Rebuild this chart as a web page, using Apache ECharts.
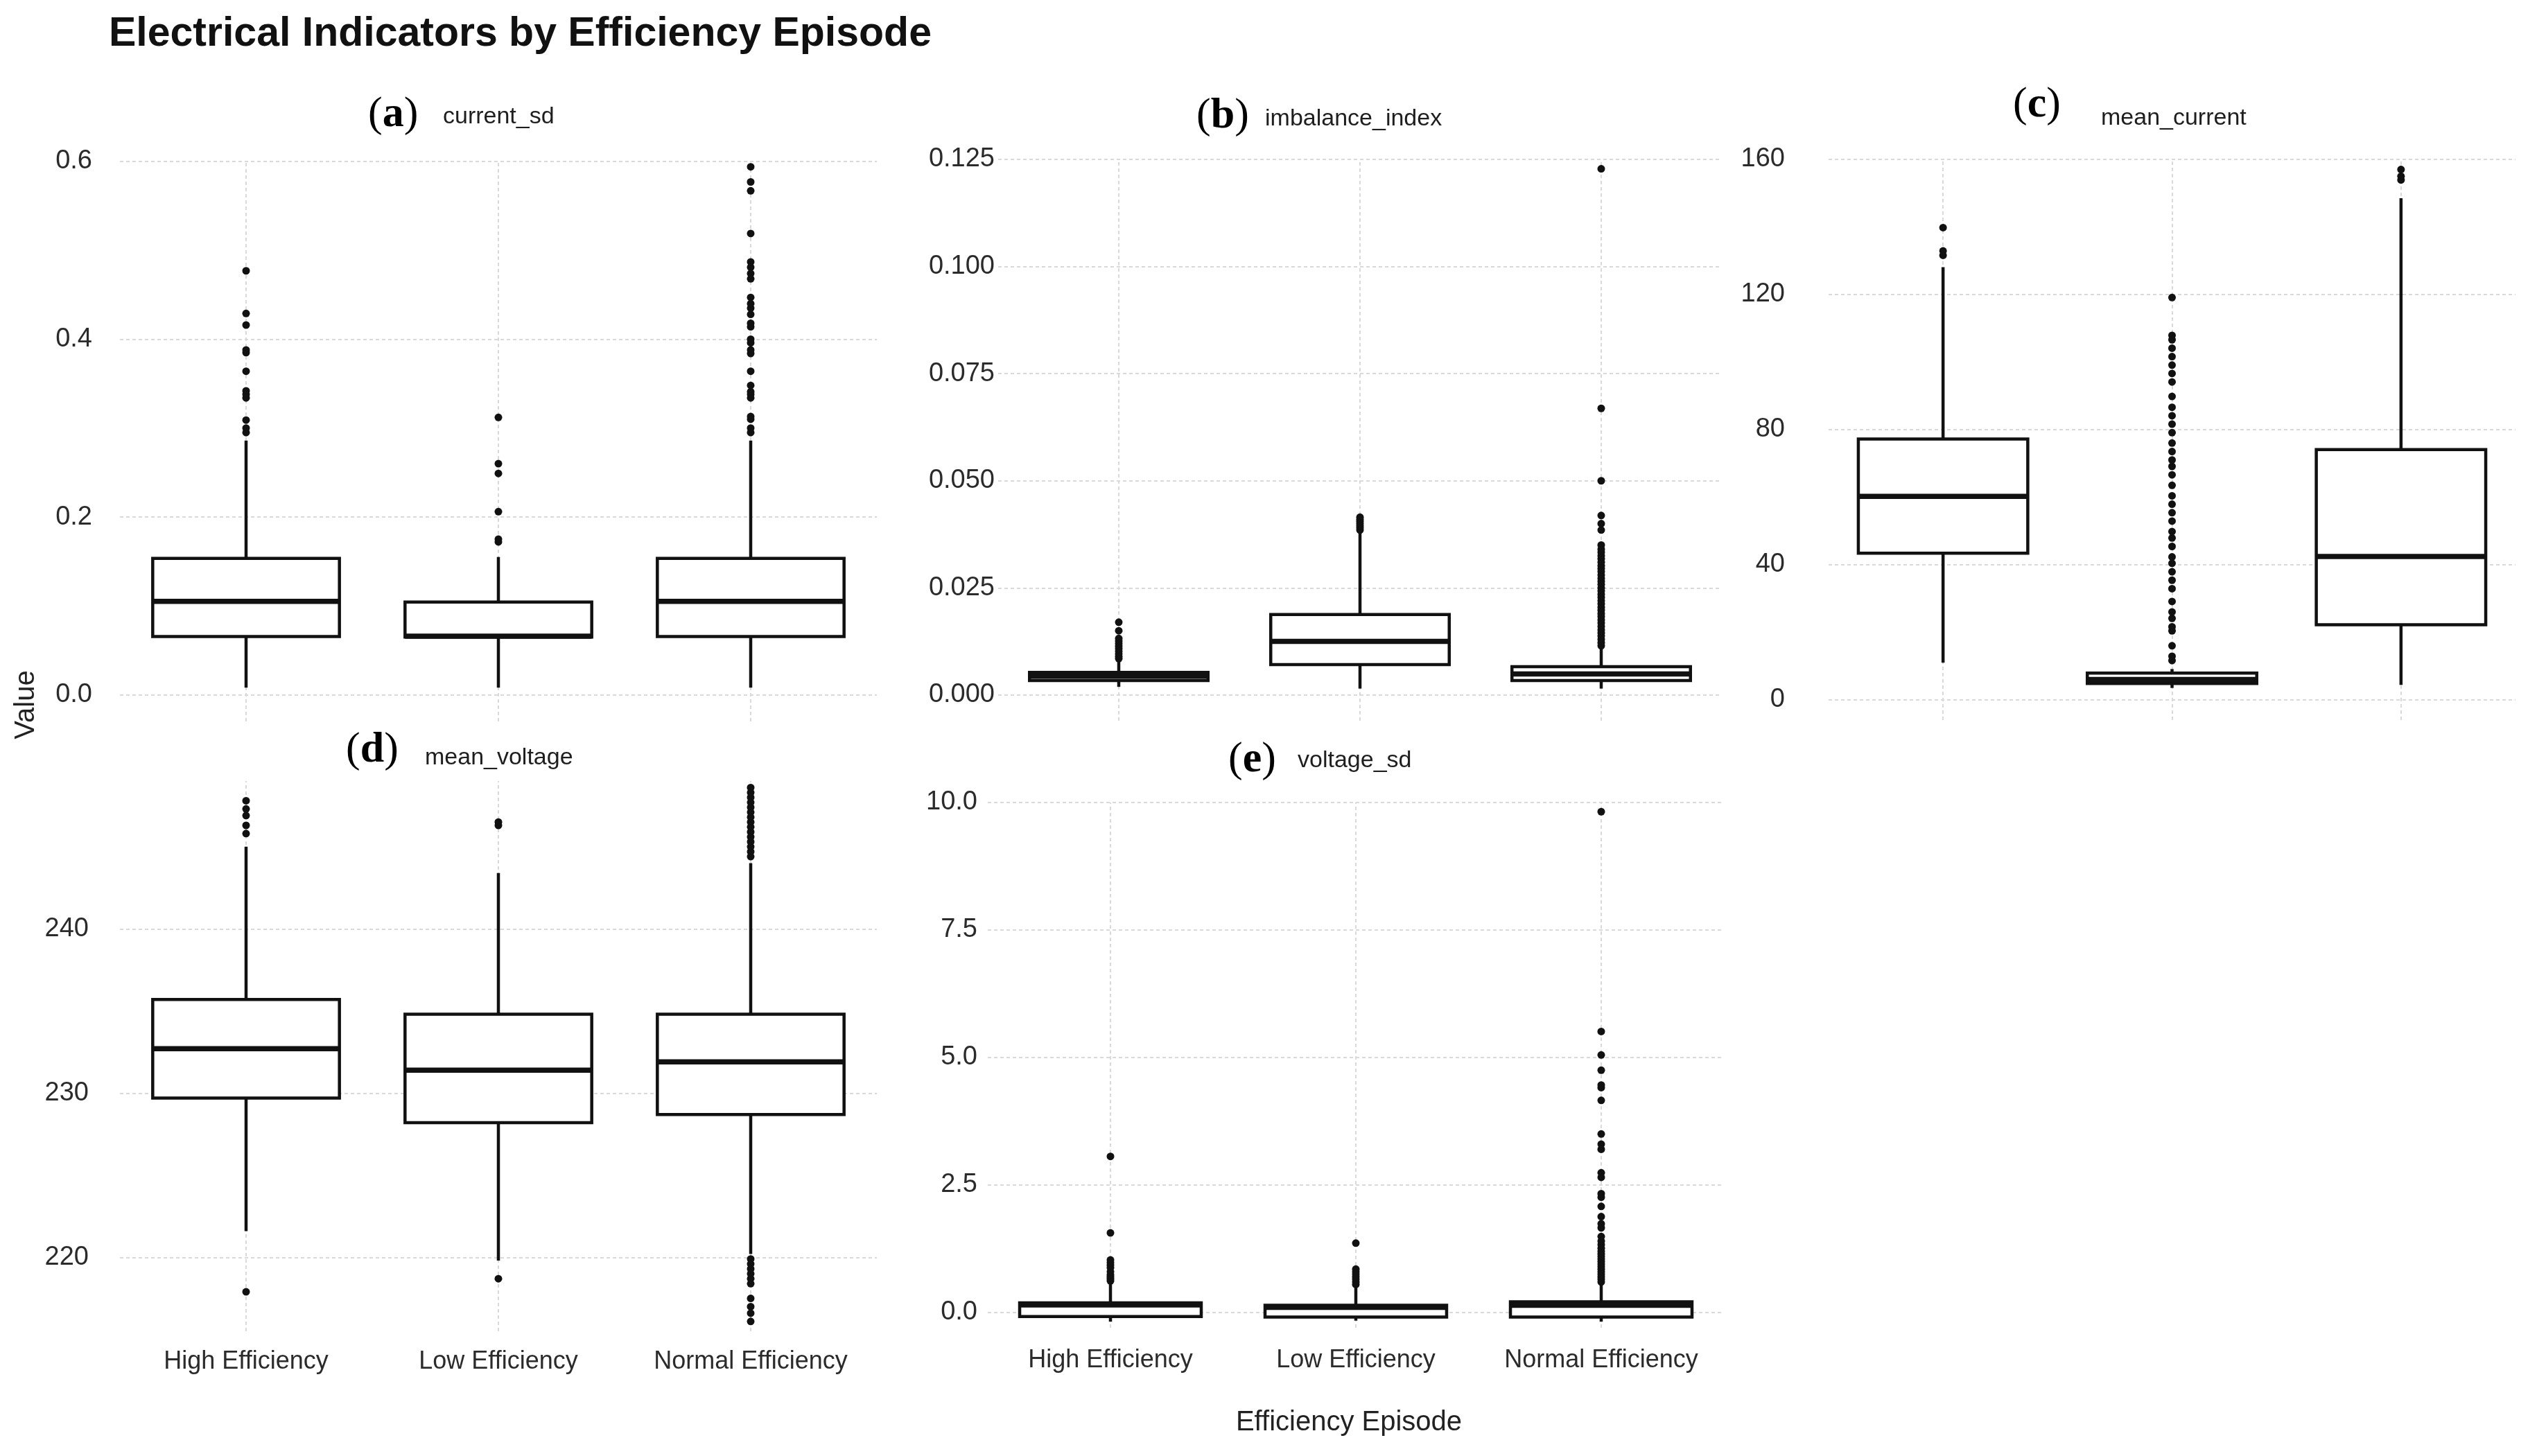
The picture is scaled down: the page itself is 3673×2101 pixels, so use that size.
<!DOCTYPE html>
<html>
<head>
<meta charset="utf-8">
<title>Electrical Indicators by Efficiency Episode</title>
<script src="https://cdn.jsdelivr.net/npm/echarts@6.0.0/dist/echarts.min.js"></script>
<style>
  html, body { margin: 0; padding: 0; background: #fff; }
  #chart { width: 3673px; height: 2101px; }
</style>
</head>
<body>
<div id="chart"></div>
<script>
// ---------------------------------------------------------------------------
// data
// each stats row: [lower whisker, Q1, median, Q3, upper whisker]
// ---------------------------------------------------------------------------
const categories = ['High Efficiency', 'Low Efficiency', 'Normal Efficiency'];

// (a) current_sd
const currentSdTicks = [0, 0.2, 0.4, 0.6];
const currentSdStats = [
  [0.008, 0.0655, 0.105, 0.1535, 0.286],
  [0.008, 0.065, 0.066, 0.1044, 0.155],
  [0.008, 0.0655, 0.105, 0.1535, 0.286]
];
const currentSdOutliers = [
  [0.295, 0.300, 0.309, 0.334, 0.338, 0.342, 0.364, 0.385, 0.388, 0.416, 0.429, 0.477],
  [0.172, 0.175, 0.206, 0.249, 0.260, 0.312],
  [0.295, 0.300, 0.310, 0.313, 0.334, 0.338, 0.341, 0.348, 0.364, 0.384, 0.388, 0.396,
   0.400, 0.414, 0.418, 0.428, 0.435, 0.440, 0.447, 0.468, 0.474, 0.481, 0.487, 0.519,
   0.567, 0.577, 0.594]
];

// (b) imbalance_index
const imbalanceTicks = [0, 0.025, 0.05, 0.075, 0.1, 0.125];
const imbalanceStats = [
  [0.0019, 0.0034, 0.0044, 0.0053, 0.0082],
  [0.0015, 0.0071, 0.0125, 0.0188, 0.0380],
  [0.0015, 0.0034, 0.0049, 0.0066, 0.0110]
];
const imbalanceOutliers = [
  [0.0085, 0.0090, 0.0096, 0.0102, 0.0108, 0.0114, 0.0120, 0.0126, 0.0132, 0.0150, 0.0170],
  [0.0385, 0.0390, 0.0395, 0.0400, 0.0405, 0.0410, 0.0415],
  [0.0115, 0.0122, 0.0130, 0.0138, 0.0145, 0.0152, 0.0160, 0.0168, 0.0175, 0.0183,
   0.0190, 0.0198, 0.0205, 0.0213, 0.0220, 0.0228, 0.0235, 0.0243, 0.0250, 0.0258,
   0.0265, 0.0272, 0.0280, 0.0288, 0.0295, 0.0302, 0.0310, 0.0318, 0.0325, 0.0333,
   0.0340, 0.0350, 0.0385, 0.0400, 0.0419, 0.0500, 0.0669, 0.1228]
];

// (c) mean_current
const meanCurrentTicks = [0, 40, 80, 120, 160];
const meanCurrentStats = [
  [11, 43.4, 60.2, 77.2, 128.1],
  [3.5, 4.8, 6.0, 7.9, 9.1],
  [4.4, 22.2, 42.4, 74.1, 148.5]
];
const meanCurrentOutliers = [
  [131.6, 132.9, 139.8],
  [11.6, 12.9, 16.0, 20.4, 21.6, 24.1, 26.0, 29.1, 32.9, 35.4, 37.9, 40.4, 42.3, 45.4,
   47.9, 49.8, 52.9, 55.4, 57.9, 60.4, 63.5, 66.6, 69.1, 71.0, 73.5, 76.0, 79.1, 81.6,
   84.1, 86.6, 89.8, 94.1, 96.6, 99.1, 101.6, 104.1, 106.6, 107.9, 119.1],
  [153.9, 155.0, 157.0]
];

// (d) mean_voltage
const meanVoltageTicks = [220, 230, 240];
const meanVoltageStats = [
  [221.6, 229.7, 232.7, 235.7, 245.0],
  [219.8, 228.2, 231.4, 234.8, 243.4],
  [220.2, 228.7, 231.9, 234.8, 244.0]
];
const meanVoltageOutliers = [
  [217.9, 245.8, 246.3, 246.9, 247.3, 247.8],
  [218.7, 246.3, 246.5],
  [219.9, 219.6, 219.3, 219.0, 218.7, 218.4, 217.5, 217.0, 216.6, 216.1,
   244.4, 244.7, 245.0, 245.3, 245.6, 245.9, 246.2, 246.5, 246.8, 247.1,
   247.4, 247.7, 248.0, 248.3, 248.6]
];

// (e) voltage_sd
const voltageSdTicks = [0, 2.5, 5, 7.5, 10];
const voltageSdStats = [
  [-0.18, -0.08, 0.15, 0.19, 0.60],
  [-0.16, -0.09, 0.10, 0.14, 0.53],
  [-0.18, -0.09, 0.14, 0.21, 0.58]
];
const voltageSdOutliers = [
  [0.62, 0.66, 0.70, 0.74, 0.80, 0.88, 0.93, 0.98, 1.03, 1.56, 3.06],
  [0.55, 0.60, 0.65, 0.70, 0.75, 0.80, 0.85, 1.36],
  [0.60, 0.65, 0.70, 0.75, 0.80, 0.85, 0.90, 0.95, 1.00, 1.05, 1.10, 1.15, 1.20, 1.26,
   1.33, 1.40, 1.49, 1.66, 1.74, 1.88, 2.08, 2.26, 2.33, 2.65, 2.74, 3.20, 3.30, 3.50,
   4.16, 4.41, 4.46, 4.75, 5.05, 5.51, 9.82]
];

// ---------------------------------------------------------------------------
// layout of the five facets
// ---------------------------------------------------------------------------
const panels = [
  { tag: 'a', name: 'current_sd', stats: currentSdStats, outliers: currentSdOutliers,
    ticks: currentSdTicks, digits: 1, min: -0.03, max: 0.6,
    grid: { left: 173, top: 233, width: 1092, height: 808 }, labelMargin: 40,
    showX: false, tagPos: [531, 166], namePos: [639, 169] },
  { tag: 'b', name: 'imbalance_index', stats: imbalanceStats, outliers: imbalanceOutliers,
    ticks: imbalanceTicks, digits: 3, min: -0.006, max: 0.125,
    grid: { left: 1440, top: 230, width: 1044, height: 810 }, labelMargin: 5,
    showX: false, tagPos: [1726, 168], namePos: [1825, 172] },
  { tag: 'c', name: 'mean_current', stats: meanCurrentStats, outliers: meanCurrentOutliers,
    ticks: meanCurrentTicks, digits: 0, min: -6, max: 160,
    grid: { left: 2638, top: 230, width: 991, height: 809 }, labelMargin: 63,
    showX: false, tagPos: [2904, 152], namePos: [3031, 171] },
  { tag: 'd', name: 'mean_voltage', stats: meanVoltageStats, outliers: meanVoltageOutliers,
    ticks: meanVoltageTicks, digits: 0, min: 215.5, max: 249,
    grid: { left: 173, top: 1127, width: 1092, height: 794 }, labelMargin: 45,
    showX: true, xMargin: 26, tagPos: [499, 1083], namePos: [613, 1094] },
  { tag: 'e', name: 'voltage_sd', stats: voltageSdStats, outliers: voltageSdOutliers,
    ticks: voltageSdTicks, digits: 1, min: -0.3, max: 10,
    grid: { left: 1425, top: 1158, width: 1062, height: 758 }, labelMargin: 15,
    showX: true, xMargin: 29, tagPos: [1772, 1097], namePos: [1872, 1098] }
];

const FONT = '"Liberation Sans", Arial, Helvetica, sans-serif';
const SERIF = '"Liberation Serif", "Times New Roman", serif';
const INK = '#111';
const GRID_COLOR = '#d9d9d9';
const BOX_RATIO = 0.74;

const renderBox = (params, api) => {
  const x = api.value(0);
  const lo = api.coord([x, api.value(1)]);
  const q1 = api.coord([x, api.value(2)]);
  const med = api.coord([x, api.value(3)]);
  const q3 = api.coord([x, api.value(4)]);
  const hi = api.coord([x, api.value(5)]);
  const half = (api.size([1, 0])[0] * BOX_RATIO) / 2;
  const cx = med[0];
  const line = { stroke: INK, lineWidth: 4.5 };
  return {
    type: 'group',
    children: [
      { type: 'line', shape: { x1: cx, y1: hi[1], x2: cx, y2: q3[1] }, style: line },
      { type: 'line', shape: { x1: cx, y1: q1[1], x2: cx, y2: lo[1] }, style: line },
      {
        type: 'rect',
        shape: { x: cx - half, y: q3[1], width: half * 2, height: q1[1] - q3[1] },
        style: { fill: '#fff', stroke: INK, lineWidth: 4.5 }
      },
      {
        type: 'line',
        shape: { x1: cx - half, y1: med[1], x2: cx + half, y2: med[1] },
        style: { stroke: INK, lineWidth: 7.5 }
      }
    ]
  };
};

const grids = [];
const xAxes = [];
const yAxes = [];
const series = [];
const graphics = [];

panels.forEach((p, i) => {
  grids.push({ ...p.grid, containLabel: false, outerBoundsMode: 'none' });

  xAxes.push({
    type: 'category',
    gridIndex: i,
    data: categories,
    boundaryGap: true,
    axisLine: { show: false },
    axisTick: { show: false },
    splitLine: { show: false },
    axisLabel: {
      show: p.showX,
      margin: p.xMargin || 0,
      color: '#2b2b2b',
      fontSize: 36,
      fontFamily: FONT,
      interval: 0
    }
  });

  yAxes.push({
    type: 'value',
    gridIndex: i,
    min: p.min,
    max: p.max,
    axisLine: { show: false },
    axisTick: { show: false, customValues: p.ticks },
    axisLabel: {
      customValues: p.ticks,
      margin: p.labelMargin,
      color: '#2b2b2b',
      fontSize: 38,
      fontFamily: FONT,
      formatter: v => Number(v).toFixed(p.digits)
    },
    splitLine: {
      show: true,
      lineStyle: { color: GRID_COLOR, width: 2, type: [5, 4] }
    }
  });

  series.push({
    type: 'custom',
    xAxisIndex: i,
    yAxisIndex: i,
    renderItem: renderBox,
    encode: { x: 0, y: [1, 2, 3, 4, 5] },
    data: p.stats.map((s, k) => [k, ...s]),
    z: 2,
    silent: true,
    markLine: {
      silent: true,
      z: 1,
      animation: false,
      symbol: ['none', 'none'],
      label: { show: false },
      lineStyle: { color: GRID_COLOR, width: 2, type: [5, 4] },
      data: categories.map(c => ({ xAxis: c }))
    }
  });

  series.push({
    type: 'scatter',
    xAxisIndex: i,
    yAxisIndex: i,
    symbol: 'circle',
    symbolSize: 11,
    itemStyle: { color: INK, opacity: 1 },
    z: 4,
    silent: true,
    data: p.outliers.flatMap((vals, k) => vals.map(v => [k, v]))
  });

  graphics.push({
    type: 'text',
    x: p.tagPos[0],
    y: p.tagPos[1],
    style: {
      text: `{p|(}{l|${p.tag}}{p|)}`,
      verticalAlign: 'middle',
      rich: {
        p: { fontFamily: SERIF, fontSize: 62, fill: '#000' },
        l: { fontFamily: SERIF, fontSize: 62, fontWeight: 'bold', fill: '#000' }
      }
    }
  });
  graphics.push({
    type: 'text',
    x: p.namePos[0],
    y: p.namePos[1],
    style: {
      text: p.name,
      verticalAlign: 'middle',
      fontFamily: FONT,
      fontSize: 34,
      fill: '#1e1e1e'
    }
  });
});

graphics.push(
  {
    type: 'text',
    x: 157,
    y: 50,
    style: {
      text: 'Electrical Indicators by Efficiency Episode',
      verticalAlign: 'middle',
      fontFamily: FONT,
      fontWeight: 'bold',
      fontSize: 59,
      fill: '#111'
    }
  },
  {
    type: 'text',
    x: 38,
    y: 1017,
    rotation: Math.PI / 2,
    style: {
      text: 'Value',
      align: 'center',
      verticalAlign: 'middle',
      fontFamily: FONT,
      fontSize: 40,
      fill: '#222'
    }
  },
  {
    type: 'text',
    x: 1946,
    y: 2053,
    style: {
      text: 'Efficiency Episode',
      align: 'center',
      verticalAlign: 'middle',
      fontFamily: FONT,
      fontSize: 40,
      fill: '#222'
    }
  }
);

const chart = echarts.init(document.getElementById('chart'), null, { renderer: 'canvas' });
chart.setOption({
  backgroundColor: '#fff',
  animation: false,
  grid: grids,
  xAxis: xAxes,
  yAxis: yAxes,
  series,
  graphic: graphics
});
</script>
</body>
</html>
